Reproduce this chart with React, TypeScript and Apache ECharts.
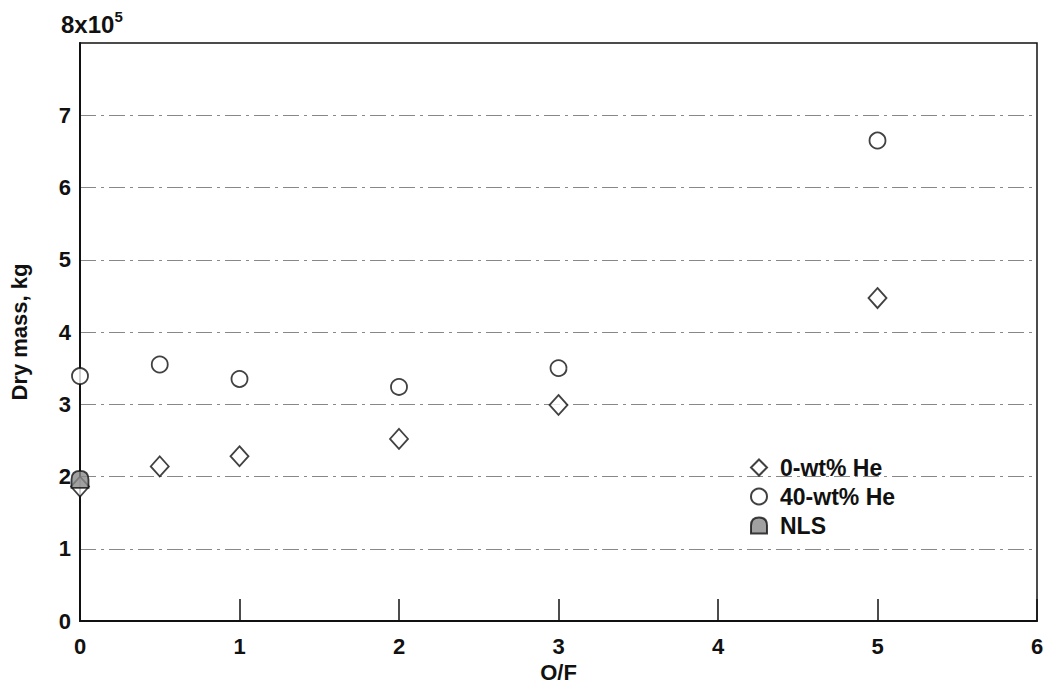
import React, { useEffect, useRef } from "react";
import * as echarts from "echarts";

const xTicks = [0, 1, 2, 3, 4, 5, 6];
const yTicks = [0, 1, 2, 3, 4, 5, 6, 7, 8];
const he0X = [0, 0.5, 1, 2, 3, 5];
const he0Y = [1.86, 2.14, 2.28, 2.52, 2.99, 4.47];
const he40X = [0, 0.5, 1, 2, 3, 5];
const he40Y = [3.39, 3.55, 3.35, 3.24, 3.5, 6.65];
const nlsX = [0];
const nlsY = [1.96];
const seriesNames = ["0-wt% He", "40-wt% He", "NLS"];

const domePath = "path://M0 12 L0 6 Q0 0 6 0 Q12 0 12 6 L12 12 Z";

export default function App() {
  const ref = useRef<HTMLDivElement>(null);
  useEffect(() => {
    if (!ref.current) return;
    const chart = echarts.init(ref.current, null, { renderer: "svg" });
    const font = "Liberation Sans";
    const fs = 22;
    const pair = (xs: number[], ys: number[]) => xs.map((x, i) => [x, ys[i]]);
    chart.setOption({
      animation: false,
      backgroundColor: "#fff",
      textStyle: { fontFamily: font },
      grid: {
        left: 80,
        right: 10,
        top: 43,
        bottom: 69,
        outerBoundsMode: "none",
        containLabel: false,
        show: true,
        borderColor: "#111",
        borderWidth: 1.5,
        backgroundColor: "transparent",
      },
      legend: {
        orient: "vertical",
        left: 745,
        top: 451,
        itemGap: 6,
        itemWidth: 16,
        itemHeight: 16,
        data: seriesNames,
        textStyle: { fontFamily: font, fontSize: 23, fontWeight: "bold", color: "#111", padding: [0, 0, 0, 8] },
      },
      xAxis: {
        type: "value",
        min: 0,
        max: 6,
        interval: 1,
        name: "O/F",
        nameLocation: "middle",
        nameGap: 39,
        nameTextStyle: { fontFamily: font, fontSize: fs, fontWeight: "bold", color: "#111" },
        axisLine: { show: true, lineStyle: { color: "#111", width: 2 } },
        axisTick: { show: true, inside: true, length: 22, lineStyle: { color: "#111", width: 1.5 } },
        axisLabel: { fontFamily: font, fontSize: fs, fontWeight: "bold", color: "#111", margin: 14 },
        splitLine: { show: false },
        data: xTicks,
      },
      yAxis: {
        type: "value",
        min: 0,
        max: 8,
        interval: 1,
        name: "Dry mass, kg",
        nameLocation: "middle",
        nameGap: 50,
        nameTextStyle: { fontFamily: font, fontSize: fs, fontWeight: "bold", color: "#111" },
        axisLine: { show: true, lineStyle: { color: "#111", width: 2 } },
        axisTick: { show: false },
        axisLabel: {
          fontFamily: font,
          fontSize: fs,
          fontWeight: "bold",
          color: "#111",
          margin: 9,
          formatter: (v: number) => (v === yTicks[yTicks.length - 1] ? "" : String(v)),
        },
        splitLine: {
          show: true,
          showMinLine: false,
          showMaxLine: false,
          lineStyle: { color: "#888", width: 1, type: [16, 5, 3, 5] },
        },
      },
      graphic: [
        {
          type: "text",
          left: 61,
          top: 9,
          style: {
            text: "{a|8x10}{b|5}",
            rich: {
              a: { fontFamily: font, fontSize: 24, fontWeight: "bold", fill: "#111", verticalAlign: "bottom" },
              b: { fontFamily: font, fontSize: 15, fontWeight: "bold", fill: "#111", verticalAlign: "top", padding: [0, 0, 12, 0] },
            },
          },
        },
      ],
      series: [
        {
          name: seriesNames[0],
          type: "scatter",
          symbol: "diamond",
          symbolSize: [18, 20],
          z: 3,
          itemStyle: { color: "#fff", borderColor: "#111", borderWidth: 1.8 },
          data: pair(he0X, he0Y),
        },
        {
          name: seriesNames[1],
          type: "scatter",
          symbol: "circle",
          symbolSize: 16,
          z: 3,
          itemStyle: { color: "#fff", borderColor: "#111", borderWidth: 1.8 },
          data: pair(he40X, he40Y),
        },
        {
          name: seriesNames[2],
          type: "scatter",
          symbol: domePath,
          symbolSize: 17,
          z: 4,
          itemStyle: { color: "#8a8a8a", borderColor: "#111", borderWidth: 1.8 },
          data: pair(nlsX, nlsY),
        },
      ],
    });
    return () => chart.dispose();
  }, []);
  return <div ref={ref} style={{ position: "fixed", left: 0, top: 0, width: 1047, height: 690 }} />;
}
